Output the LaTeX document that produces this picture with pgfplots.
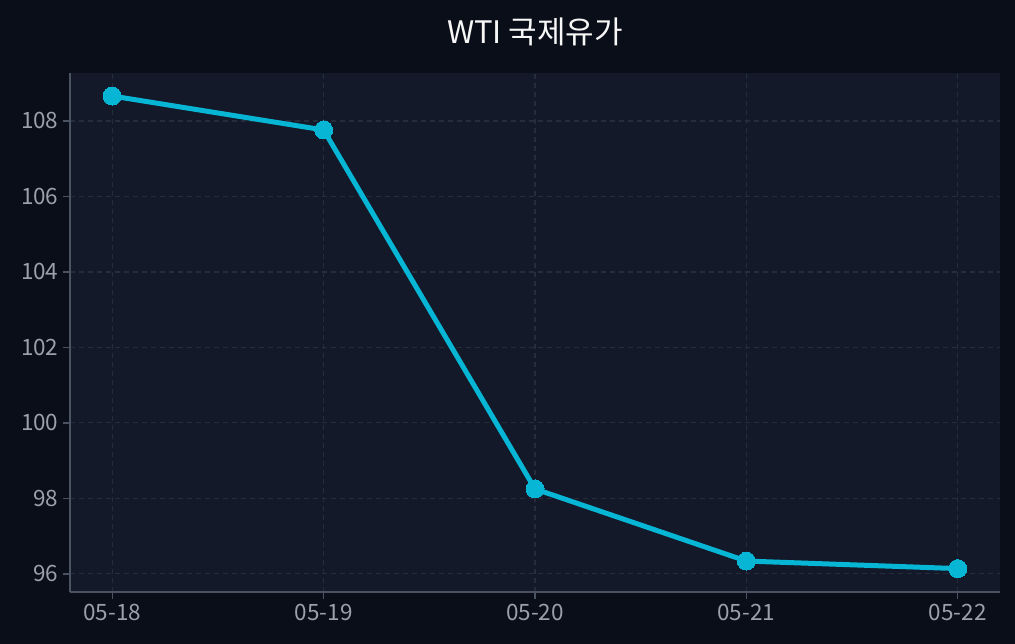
\documentclass[border=0pt]{standalone}
\usepackage{fontspec}
\setmainfont{Noto Sans CJK KR}
\usepackage{pgfplots}
\pgfplotsset{compat=1.18}
\definecolor{outerbg}{HTML}{0A0E18}
\definecolor{plotbg}{HTML}{131929}
\definecolor{gridc}{HTML}{252C3C}
\definecolor{axisc}{HTML}{4B5262}
\definecolor{tickc}{HTML}{9AA0AC}
\definecolor{linec}{HTML}{06B6D4}
\begin{document}
\begin{tikzpicture}
\fill[outerbg] (0,0) rectangle (1015pt,644pt);
\node[text=white!94!gray, font=\fontsize{31}{36}\selectfont] at (535pt,612pt) {WTI 국제유가};
\begin{axis}[
  at={(70pt,52pt)}, anchor=south west,
  scale only axis, width=930pt, height=519pt,
  xmin=-0.2, xmax=4.2, ymin=95.52, ymax=109.27,
  axis background/.style={fill=plotbg},
  axis x line*=bottom, axis y line*=left,
  axis line style={axisc, line width=1.5pt, -},
  xtick={0,1,2,3,4},
  xticklabels={05-18,05-19,05-20,05-21,05-22},
  ytick={96,98,100,102,104,106,108},
  tick style={axisc, line width=1.5pt},
  tick align=outside, major tick length=7pt,
  ticklabel style={text=tickc, font=\fontsize{22.5}{26}\selectfont},
  /pgf/number format/assume math mode=true,
  xticklabel style={yshift=-2pt},
  yticklabel style={xshift=-1pt},
  grid=major,
  major grid style={gridc, line width=1.2pt, dash pattern=on 5pt off 4pt},
  clip=false,
]
\addplot[linec, line width=5pt, mark=*, mark size=9pt, mark options={fill=linec, draw=linec, line width=0pt}]
coordinates {(0,108.66) (1,107.76) (2,98.25) (3,96.34) (4,96.14)};
\end{axis}
\end{tikzpicture}
\end{document}
